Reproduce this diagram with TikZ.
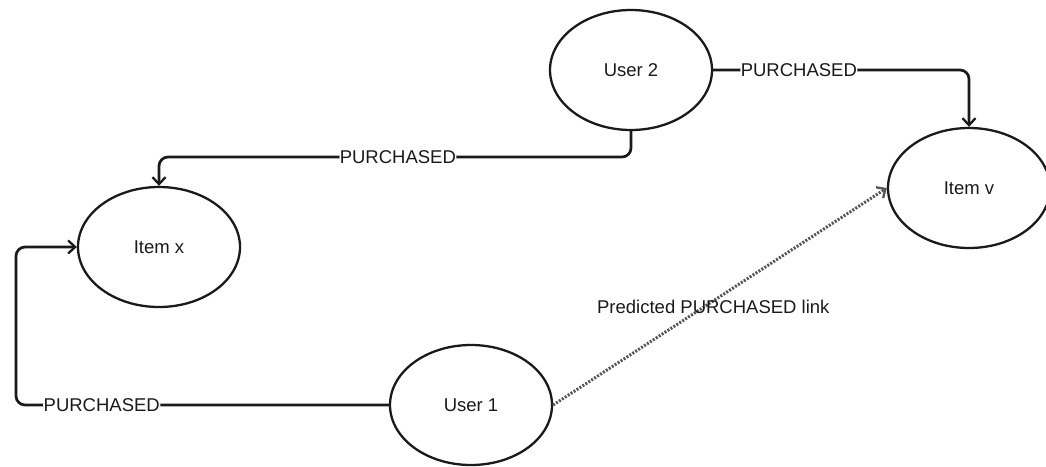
\documentclass[tikz,border=0pt]{standalone}
\usepackage{fontspec}
\setmainfont{Liberation Sans}
\usetikzlibrary{shapes.geometric,arrows.meta}
\definecolor{ink}{HTML}{1A1A1A}
\definecolor{dotgrey}{HTML}{555555}
\tikzset{
  txt/.style={font=\fontsize{18.5}{21}\selectfont, text=ink},
  entity/.style={ellipse, draw=ink, line width=2.3pt, minimum width=162pt,
    minimum height=120pt, inner sep=0pt, txt},
  rel/.style={draw=ink, line width=2.7pt, rounded corners=9pt,
    -{Straight Barb[length=7pt,width=13pt,line width=2.3pt]}},
  lbl/.style={fill=white, inner sep=0.5pt, txt},
  predicted/.style={draw=dotgrey, line width=3pt, dash pattern=on 2pt off 1.5pt,
    -{Straight Barb[length=7pt,width=13pt,line width=2.3pt]}},
}
\begin{document}
\begin{tikzpicture}[x=1pt,y=-1pt]
  \useasboundingbox (0,0) rectangle (1046,466);

  % graph nodes
  \node[entity] (u2) at (631,70) {User 2};
  \node[entity] (iv) at (969,188) {Item v};
  \node[entity] (ix) at (159,247) {Item x};
  \node[entity] (u1) at (471,405) {User 1};

  % helper points for the routed edges
  \coordinate (mid) at (0,157);
  \coordinate (lft) at (16,0);

  % User 2 -> Item v
  \draw[rel] (u2.east) -- node[lbl,pos=0.335] {PURCHASED} (u2.east -| iv.north) -- (iv.north);

  % User 2 -> Item x
  \draw[rel] (u2.south) -- (u2.south |- mid)
    -- node[lbl,pos=0.494] {PURCHASED} (ix.north |- mid) -- (ix.north);

  % User 1 -> Item x
  \draw[rel] (u1.west) -- node[lbl,pos=0.77] {PURCHASED} (u1.west -| lft) |- (ix.west);

  % predicted link User 1 -> Item v
  \draw[predicted] (u1.east) -- node[pos=0.48, yshift=-6pt, txt]
    {Predicted PURCHASED link} (iv.west);
\end{tikzpicture}
\end{document}
